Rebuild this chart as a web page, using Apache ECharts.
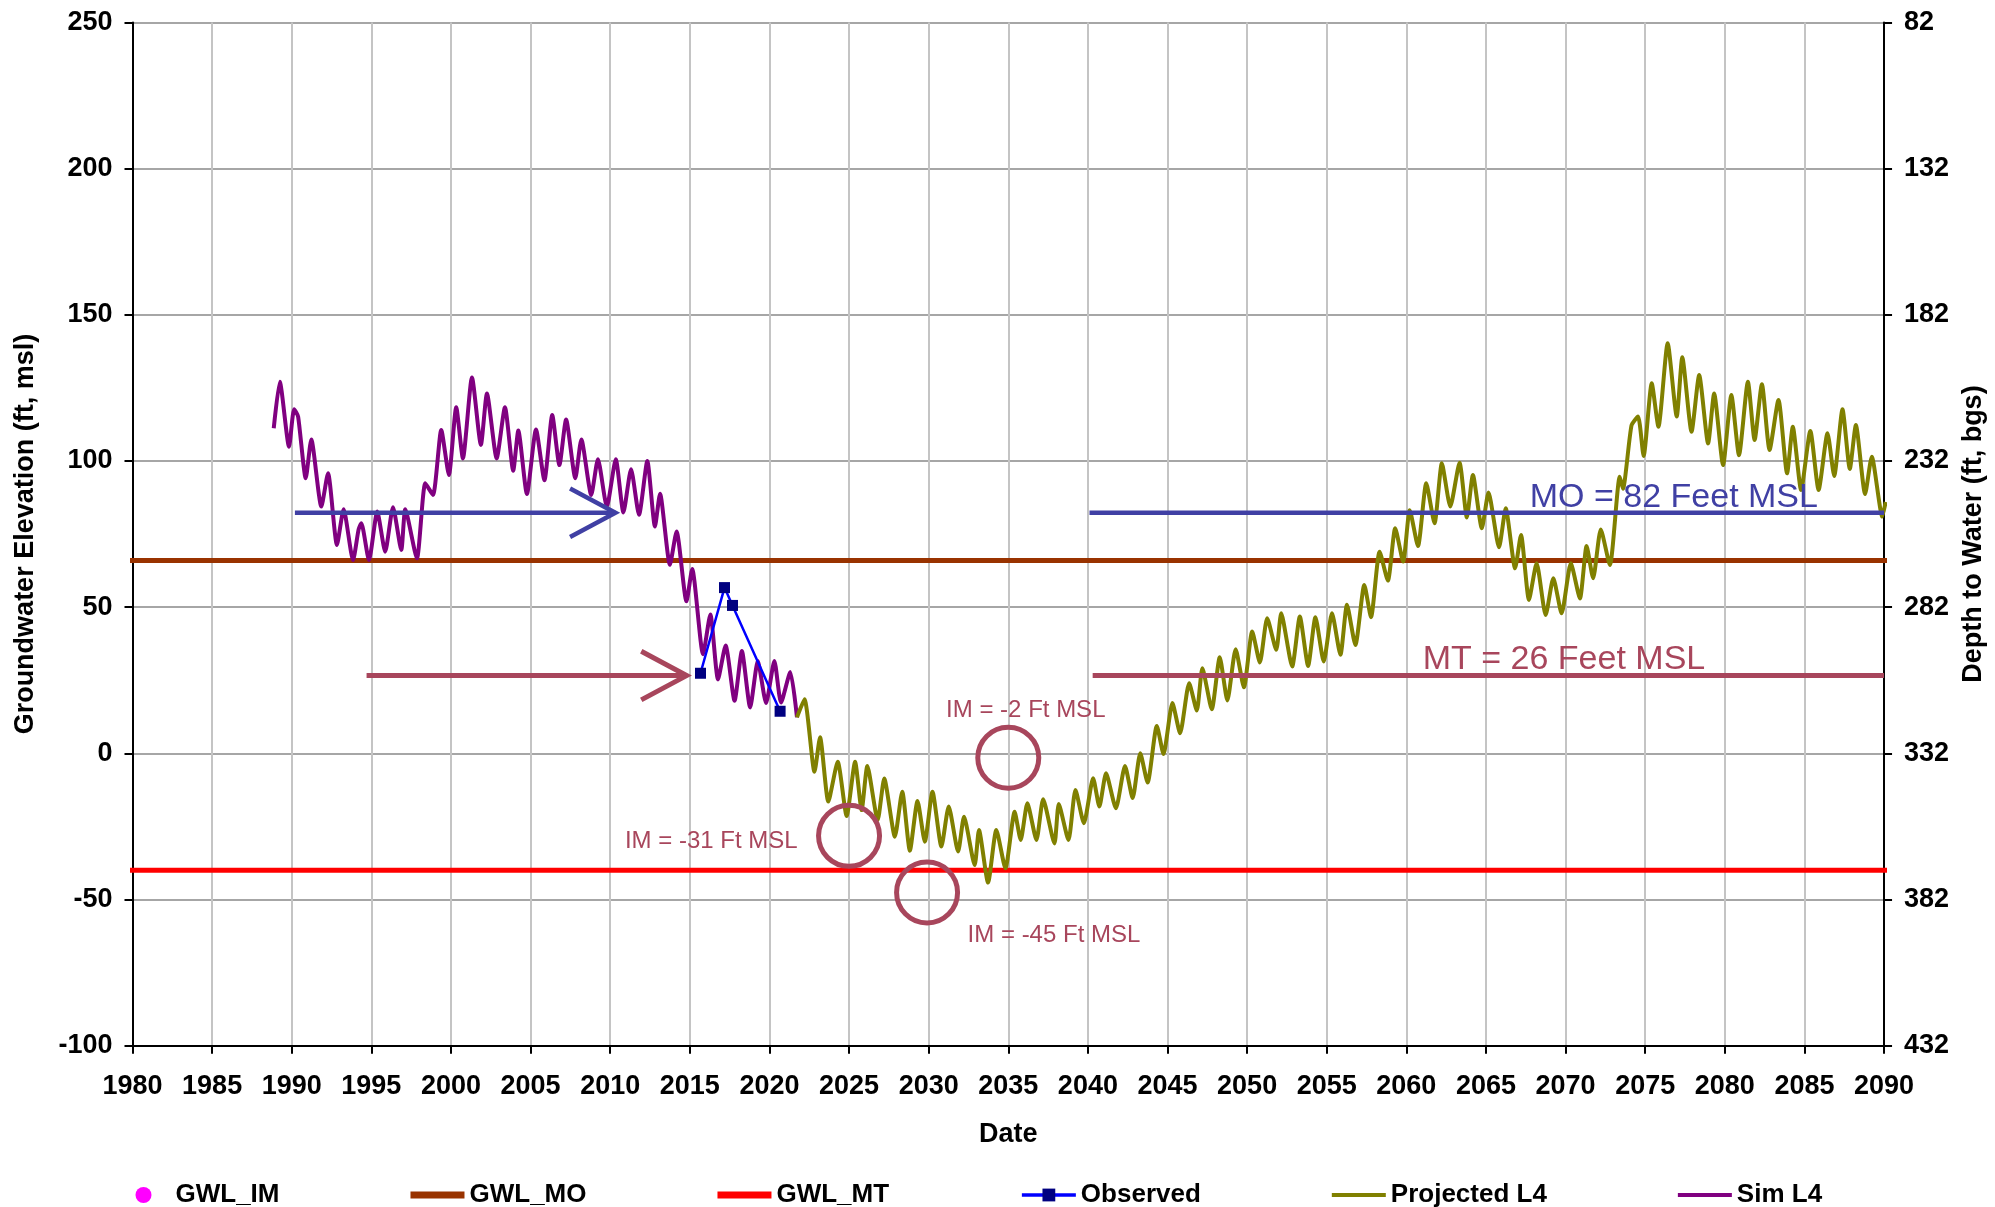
<!DOCTYPE html>
<html>
<head>
<meta charset="utf-8">
<script src="https://cdn.jsdelivr.net/npm/echarts@6/dist/echarts.min.js"></script>
<style>
html,body{margin:0;padding:0;background:#fff;}
#chart{width:1995px;height:1207px;}
</style>
</head>
<body>
<div id="chart"></div>
<script>
// ---------------- data ----------------
const simYears = [1988.87,1989.25,1989.83,1990.15,1990.40,1990.88,1991.23,1991.86,1992.28,1992.84,1993.26,1993.85,1994.20,1994.37,1994.85,1995.37,1995.87,1996.36,1996.88,1997.13,1997.86,1998.39,1998.87,1999.39,1999.87,2000.33,2000.75,2001.32,2001.88,2002.26,2002.87,2003.39,2003.91,2004.23,2004.77,2005.34,2005.87,2006.36,2006.81,2007.23,2007.81,2008.19,2008.81,2009.23,2009.79,2010.35,2010.83,2011.31,2011.81,2012.33,2012.81,2013.13,2013.75,2014.17,2014.79,2015.15,2015.83,2016.29,2016.77,2017.25,2017.81,2018.27,2018.79,2019.27,2019.79,2020.31,2020.73,2021.31,2021.73];
const simValues = [111.2,127.1,104.9,117.7,115.2,94.1,107.4,84.4,95.8,71.3,83.5,66.1,76.6,78.7,66.1,82.7,69.0,84.2,69.6,83.5,66.7,92.4,88.4,110.6,95.2,118.4,100.9,128.6,105.5,123.1,100.9,118.4,96.7,110.4,88.7,110.8,93.4,115.7,98.6,114.2,94.1,107.4,88.4,100.6,84.4,100.6,82.4,97.2,81.6,100.0,77.6,88.8,64.5,75.9,52.0,63.1,33.9,47.5,25.3,36.9,18.0,35.0,15.7,31.6,17.2,31.6,17.4,27.8,12.3];

const projYears = [2021.73,2022.20,2022.83,2023.18,2023.70,2024.29,2024.85,2025.38,2025.79,2026.15,2026.80,2027.21,2027.88,2028.34,2028.82,2029.30,2029.76,2030.24,2030.80,2031.26,2031.85,2032.22,2032.89,2033.16,2033.73,2034.25,2034.82,2035.40,2035.78,2036.20,2036.77,2037.19,2037.90,2038.17,2038.78,2039.22,2039.75,2040.33,2040.72,2041.14,2041.76,2042.33,2042.81,2043.29,2043.75,2044.33,2044.75,2045.31,2045.79,2046.36,2046.84,2047.19,2047.78,2048.28,2048.76,2049.28,2049.80,2050.32,2050.80,2051.26,2051.83,2052.14,2052.83,2053.31,2053.83,2054.29,2054.81,2055.33,2055.86,2056.27,2056.80,2057.36,2057.78,2058.32,2058.84,2059.30,2059.80,2060.21,2060.73,2061.25,2061.77,2062.23,2062.76,2063.34,2063.80,2064.18,2064.74,2065.16,2065.82,2066.24,2066.83,2067.20,2067.70,2068.18,2068.75,2069.23,2069.75,2070.33,2070.90,2071.32,2071.73,2072.21,2072.78,2073.40,2073.60,2074.14,2074.55,2074.90,2075.41,2075.83,2076.41,2076.98,2077.33,2077.91,2078.39,2078.95,2079.33,2079.89,2080.41,2080.89,2081.45,2081.87,2082.33,2082.81,2083.37,2083.91,2084.27,2084.79,2085.37,2085.89,2086.45,2086.87,2087.39,2087.85,2088.23,2088.81,2089.23,2089.89,2090.10];
const projValues = [12.3,18.5,-6.3,5.5,-16.5,-2.9,-21.4,-2.9,-19.4,-4.3,-22.8,-8.6,-28.5,-13.1,-33.3,-16.3,-30.2,-13.1,-31.9,-18.2,-33.6,-21.7,-38.2,-26.2,-44.2,-26.2,-39.3,-20.0,-29.6,-17.1,-29.6,-15.7,-30.8,-17.3,-29.6,-12.5,-23.9,-8.5,-18.2,-6.8,-18.8,-4.3,-15.3,0.0,-10.0,9.4,-0.2,17.2,6.9,24.0,14.7,29.1,15.1,32.9,18.1,35.6,22.6,41.7,31.1,46.2,35.4,47.9,29.7,46.8,29.9,46.6,31.4,47.9,33.7,50.8,37.1,57.6,46.6,69.0,59.1,77.0,65.6,83.2,70.9,92.4,78.7,99.2,84.4,99.4,80.7,95.2,77.0,89.2,70.5,83.8,63.3,74.7,52.5,65.0,47.3,59.9,47.9,65.0,53.0,70.9,59.9,76.6,64.4,94.6,90.5,112.2,115.2,101.7,126.6,111.7,140.3,115.2,135.5,110.0,129.4,106.0,123.1,98.6,122.6,102.0,127.1,107.2,126.3,103.8,120.9,95.8,111.7,90.1,110.3,90.1,109.5,94.9,117.7,97.3,112.3,88.7,101.5,81.0,86.0];

const obsYears = [2015.67,2017.18,2017.68,2020.67];
const obsValues = [27.4,56.7,50.6,14.4];

const gwlMO = 66;          // measurable objective reference line (ft msl)
const gwlMT = -40;         // minimum threshold reference line (ft msl)
const refLineYears = [1979.0, 2091.3];

const moValue = 82.3;      // MO = 82 Feet MSL
const mtValue = 26.6;      // MT = 26 Feet MSL
const moArrowYears = [1990.2, 2010.33];
const mtArrowYears = [1994.7, 2014.8];
const moLineYears = [2040.1, 2090];
const mtLineYears = [2040.3, 2090];
const arrowBackYears = 2.85;
const arrowHalfValue = 8.3;

const imCircleYears = [2025.0, 2029.9, 2035.0];
const imCircleValues = [-28.2, -47.6, -1.5];
const imLabels = ['IM = -31 Ft MSL', 'IM = -45 Ft MSL', 'IM = -2 Ft MSL'];
const imLabelYears = [2016.35, 2037.87, 2036.1];
const imLabelValues = [-30.1, -62.4, 14.6];

const moText = 'MO = 82 Feet MSL';
const moTextPos = [2076.8, 87.6];
const mtText = 'MT = 26 Feet MSL';
const mtTextPos = [2069.9, 32.2];

const xTicks = {min: 1980, max: 2090, step: 5};
const yTicks = {min: -100, max: 250, step: 50};
const depthTicks = {min: 82, max: 432, step: 50};

// ---------------- build ----------------
const zip = (xs, ys) => xs.map((x, i) => [x, ys[i]]);
const arrowHead = (tip, v) => [[tip - arrowBackYears, v + arrowHalfValue], [tip, v], [tip - arrowBackYears, v - arrowHalfValue]];

const FONT = "'Liberation Sans', Arial, sans-serif";
const BLUE_ANN = '#4040A4';
const MAROON = '#A8465C';
const THICK_ICON = 'path://M0,0H54V7H0Z';
const THIN_ICON = 'path://M0,0H54V4H0Z';

const chart = echarts.init(document.getElementById('chart'), null, {renderer: 'canvas'});

const annLine = (data, color, width) => ({
  type: 'line', data: data, symbol: 'none', silent: true, z: 5,
  lineStyle: {color: color, width: width, cap: 'butt', join: 'miter', opacity: 1},
  itemStyle: {color: color}, animation: false
});

const textSeries = (pts, texts, color, size) => ({
  type: 'scatter', silent: true, z: 6, symbolSize: 1,
  itemStyle: {color: 'rgba(0,0,0,0)', opacity: 1},
  data: pts.map((p, i) => ({value: p, name: texts[i]})),
  label: {show: true, position: 'inside', formatter: p => p.name, color: color, opacity: 1,
          fontSize: size, fontFamily: FONT, fontWeight: 'normal'}
});

const option = {
  animation: false,
  backgroundColor: '#ffffff',
  textStyle: {fontFamily: FONT},
  grid: {left: 132.5, right: 106.7, top: 22.5, bottom: 161.3, containLabel: false},
  legend: {
    data: [
      {name: 'GWL_IM', icon: 'circle'},
      {name: 'GWL_MO', icon: THICK_ICON},
      {name: 'GWL_MT', icon: THICK_ICON},
      {name: 'Observed', lineStyle: {width: 3.5}},
      {name: 'Projected L4', icon: THIN_ICON},
      {name: 'Sim L4', icon: THIN_ICON}
    ],
    left: 130.5, top: 1177, itemWidth: 54, itemHeight: 16, itemGap: 131,
    textStyle: {fontSize: 26, fontWeight: 'bold', color: '#000', fontFamily: FONT},
    selectedMode: false
  },
  xAxis: {
    type: 'value', min: xTicks.min, max: xTicks.max, interval: xTicks.step,
    name: 'Date', nameLocation: 'middle', nameGap: 75,
    nameTextStyle: {fontSize: 27, fontWeight: 'bold', color: '#000', fontFamily: FONT},
    axisLine: {show: true, onZero: false, lineStyle: {color: '#000', width: 2}},
    axisTick: {show: true, length: 8, lineStyle: {color: '#000', width: 2}},
    axisLabel: {fontSize: 27, fontWeight: 'bold', color: '#000', margin: 27, fontFamily: FONT,
                formatter: v => String(Math.round(v))},
    splitLine: {show: true, lineStyle: {color: '#C4C4C4', width: 2}}
  },
  yAxis: [
    {
      type: 'value', min: yTicks.min, max: yTicks.max, interval: yTicks.step,
      name: 'Groundwater Elevation (ft, msl)', nameLocation: 'middle', nameGap: 93, nameRotate: 90,
      nameTextStyle: {fontSize: 27, fontWeight: 'bold', color: '#000', fontFamily: FONT},
      axisLine: {show: true, onZero: false, lineStyle: {color: '#000', width: 2}},
      axisTick: {show: true, length: 8, lineStyle: {color: '#000', width: 2}},
      axisLabel: {fontSize: 27, fontWeight: 'bold', color: '#000', margin: 20, fontFamily: FONT},
      splitLine: {show: true, lineStyle: {color: '#A6A6A6', width: 2}}
    },
    {
      type: 'value', position: 'right', inverse: true,
      min: depthTicks.min, max: depthTicks.max, interval: depthTicks.step,
      name: 'Depth to Water (ft, bgs)', nameLocation: 'middle', nameGap: 72, nameRotate: 90,
      nameTextStyle: {fontSize: 27, fontWeight: 'bold', color: '#000', fontFamily: FONT},
      axisLine: {show: true, onZero: false, lineStyle: {color: '#000', width: 2}},
      axisTick: {show: true, length: 8, lineStyle: {color: '#000', width: 2}},
      axisLabel: {fontSize: 27, fontWeight: 'bold', color: '#000', margin: 20, fontFamily: FONT},
      splitLine: {show: false}
    }
  ],
  series: [
    {name: 'GWL_IM', type: 'scatter', data: [], symbol: 'circle', symbolSize: 16,
     itemStyle: {color: '#FF00FF', opacity: 1}},
    {name: 'GWL_MO', type: 'line', clip: false, symbol: 'none', z: 2,
     data: refLineYears.map(x => [x, gwlMO]),
     lineStyle: {color: '#993300', width: 5}, itemStyle: {color: '#993300'}},
    {name: 'GWL_MT', type: 'line', clip: false, symbol: 'none', z: 2,
     data: refLineYears.map(x => [x, gwlMT]),
     lineStyle: {color: '#FF0000', width: 5}, itemStyle: {color: '#FF0000'}},
    {name: 'Sim L4', type: 'line', symbol: 'none', z: 3, smooth: 0.2,
     data: zip(simYears, simValues),
     lineStyle: {color: '#800080', width: 4}, itemStyle: {color: '#800080'}},
    {name: 'Projected L4', type: 'line', symbol: 'none', z: 3, smooth: 0.2,
     data: zip(projYears, projValues),
     lineStyle: {color: '#808000', width: 4}, itemStyle: {color: '#808000'}},
    {name: 'Observed', type: 'line', symbol: 'rect', symbolSize: 11, showSymbol: true, z: 4,
     data: zip(obsYears, obsValues),
     lineStyle: {color: '#0000FF', width: 2.5}, itemStyle: {color: '#000080'}},
    // annotations: MO arrow and line
    annLine(moArrowYears.map(x => [x, moValue]), BLUE_ANN, 4.5),
    annLine(arrowHead(moArrowYears[1], moValue), BLUE_ANN, 4.5),
    annLine(moLineYears.map(x => [x, moValue]), BLUE_ANN, 4.5),
    // MT arrow and line
    annLine(mtArrowYears.map(x => [x, mtValue]), MAROON, 5),
    annLine(arrowHead(mtArrowYears[1], mtValue), MAROON, 5),
    annLine(mtLineYears.map(x => [x, mtValue]), MAROON, 5),
    // IM circles
    {type: 'scatter', silent: true, z: 6, symbol: 'circle', symbolSize: 61,
     data: zip(imCircleYears, imCircleValues),
     itemStyle: {color: 'rgba(0,0,0,0)', borderColor: MAROON, borderWidth: 5, opacity: 1}},
    textSeries(zip(imLabelYears, imLabelValues), imLabels, MAROON, 24),
    textSeries([moTextPos], [moText], BLUE_ANN, 34),
    textSeries([mtTextPos], [mtText], MAROON, 34)
  ]
};
chart.setOption(option);
</script>
</body>
</html>
